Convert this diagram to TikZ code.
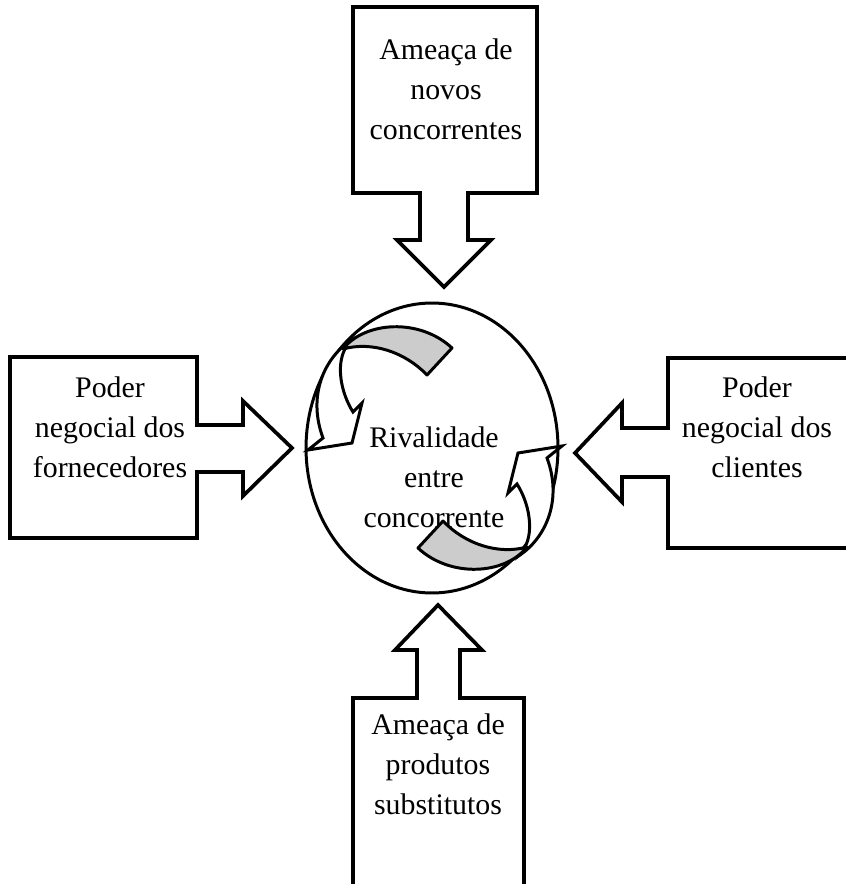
\documentclass[tikz,border=0pt]{standalone}
\usepackage{fontspec}
\setmainfont{Liberation Serif}
\usetikzlibrary{positioning}
\newcommand{\rivalarrow}{%
    \draw[shaft] (350,341) .. controls (325,358) and (307,395) .. (323,438) -- (308,450) -- (352,443) -- (362,403) -- (353,412) .. controls (341,393) and (336,366) .. (345,349) -- cycle;
    \draw[band] (343,349) .. controls (365,321) and (420,318) .. (452,348) -- (427,375) .. controls (405,352) and (372,341) .. (343,349) -- cycle;
}

\begin{document}
\begin{tikzpicture}[x=0.02cm, y=-0.02cm,
    callout/.style={draw, line width=2.1pt, line join=miter, fill=white},
    forcetext/.style={align=center, font=\fontsize{17}{22.8}\selectfont, inner sep=0pt},
    band/.style={draw, line width=1.7pt, fill=black!20, line join=round},
    shaft/.style={draw, line width=1.7pt, fill=white, line join=miter}
    ]
    \useasboundingbox (0,0) rectangle (845,884);

    % Rivalry
    \draw[line width=1.7pt] (432,448) ellipse [x radius=2.52cm, y radius=2.9cm];
    \node[forcetext] (rival) at (434,477) {Rivalidade\\entre\\concorrente};
    \rivalarrow
    \begin{scope}[rotate around={180:(435,448)}]
        \rivalarrow
    \end{scope}

    % Forces
    \draw[callout] (353,7) -- (537,7) -- (537,193) -- (468,193) -- (468,240) -- (491,240) -- (444,287) -- (397,240) -- (420,240) -- (420,193) -- (353,193) -- cycle;
    \node[forcetext] (novos) at (446,89) {Ameaça de\\novos\\concorrentes};

    \draw[callout] (10,357) -- (197,357) -- (197,425) -- (243,425) -- (243,401) -- (292,448) -- (243,496) -- (243,472) -- (197,472) -- (197,538) -- (10,538) -- cycle;
    \node[forcetext] (fornecedores) at (110,427) {Poder\\negocial dos\\fornecedores};

    \draw[callout] (852,358) -- (668,358) -- (668,428) -- (622,428) -- (622,403) -- (575,453) -- (622,502) -- (622,477) -- (668,477) -- (668,548) -- (852,548) -- cycle;
    \node[forcetext] (clientes) at (757,427) {Poder\\negocial dos\\clientes};

    \draw[callout] (353,892) -- (353,698) -- (417,698) -- (417,650) -- (395,650) -- (438,605) -- (482,650) -- (460,650) -- (460,698) -- (524,698) -- (524,892) -- cycle;
    \node[forcetext] (substitutos) at (438,764) {Ameaça de\\produtos\\substitutos};
\end{tikzpicture}
\end{document}
